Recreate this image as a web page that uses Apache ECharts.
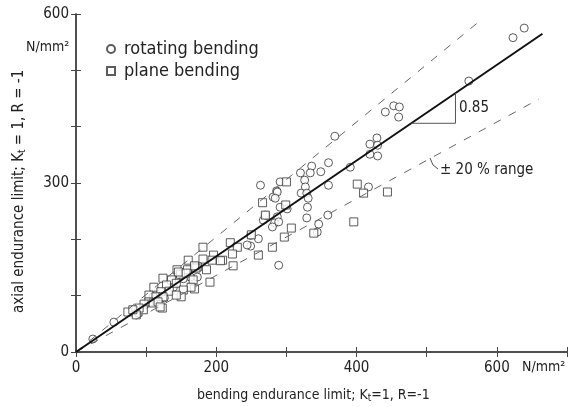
<!DOCTYPE html>
<html>
<head>
<meta charset="utf-8">
<script src="https://cdn.jsdelivr.net/npm/echarts@6/dist/echarts.min.js"></script>
<style>html,body{margin:0;padding:0;background:#fff}#c{width:574px;height:407px}</style>
</head>
<body>
<div id="c"></div>
<script>
var FONT = "'DejaVu Sans Condensed','Liberation Sans Narrow',sans-serif";
var xTickLabels = [0, 200, 400, 600];
var yTickLabels = [0, 300, 600];

var rotatingBending = [
  [639,575],[623,558],[560,481],[441,426],[453,437],[461,435],[460,417],
  [369,383],[419,369],[429,380],[430,367],[419,351],[430,348],[360,336],
  [391,328],[336,330],[320,318],[334,318],[349,320],[326,305],[291,302],
  [327,293],[360,296],[286,286],[321,282],[329,282],[281,275],[331,273],
  [291,257],[330,257],[301,254],[287,240],[329,238],[359,243],[283,229],
  [280,222],[346,227],[417,293],[263,296],[287,284],[284,273],[267,234],
  [289,231],[260,201],[249,188],[289,154],[244,190],[173,133],[163,133],
  [153,130],[139,115],[126,96],[110,98],[89,69],[54,53],[24,23],[344,213],
  [270,243],[249,207]
];
var planeBending = [
  [401,298],[410,282],[444,284],[396,231],[307,220],[297,204],[339,211],
  [300,302],[266,265],[299,261],[270,243],[250,208],[280,186],[260,172],
  [220,194],[230,186],[181,186],[223,174],[209,163],[196,172],[194,163],
  [181,165],[224,153],[160,163],[159,146],[173,151],[186,146],[144,146],
  [149,138],[206,162],[171,149],[191,124],[169,112],[169,153],[146,142],
  [157,140],[136,128],[143,122],[124,131],[167,128],[129,119],[164,115],
  [111,115],[121,107],[133,108],[153,110],[150,98],[143,101],[104,101],
  [114,98],[104,89],[97,85],[110,87],[124,98],[117,89],[123,78],[96,75],
  [90,78],[86,66],[74,71],[81,75],[120,80]
];
var meanLine = [[0,0],[665,565]];
var upperLine = [[0,0],[580,592]];
var lowerLine = [[0,0],[660,449]];
var slopeTriangle = [[478,406],[541,406],[541,460]];

var chart = echarts.init(document.getElementById('c'), null, {renderer:'canvas'});
var axisCommon = {
  type:'value', min:0, interval:100,
  axisLine:{show:true, lineStyle:{color:'#444', width:1.5}},
  axisTick:{show:true, inside:true, length:5, lineStyle:{color:'#444', width:1}},
  splitLine:{show:false}
};
var option = {
  backgroundColor:'#fff',
  animation:false,
  grid:{left:76, top:14, right:7, bottom:55, containLabel:false},
  xAxis:[
    Object.assign({}, axisCommon, {max:700, position:'bottom',
      axisLabel:{show:true, margin:9, fontSize:15, color:'#222', fontFamily:FONT,
        formatter:function(v){return xTickLabels.indexOf(v)>=0 ? String(v) : '';}}}),
    Object.assign({}, axisCommon, {max:700, position:'top', axisLabel:{show:false}})
  ],
  yAxis:[
    Object.assign({}, axisCommon, {max:600, position:'left',
      axisLabel:{show:true, margin:7, fontSize:15, color:'#222', fontFamily:FONT,
        formatter:function(v){return yTickLabels.indexOf(v)>=0 ? String(v) : '';}}}),
    Object.assign({}, axisCommon, {max:600, position:'right', axisLabel:{show:false}})
  ],
  legend:{
    orient:'vertical', left:101, top:35, itemWidth:8, itemHeight:8, itemGap:4,
    data:['rotating bending','plane bending'],
    textStyle:{fontSize:18, color:'#222', fontFamily:FONT, padding:[0,0,0,4], lineHeight:18}
  },
  series:[
    {type:'line', data:upperLine, symbol:'none', silent:true,
      lineStyle:{color:'#666', width:1, type:[8,9]}},
    {type:'line', data:lowerLine, symbol:'none', silent:true,
      lineStyle:{color:'#666', width:1, type:[8,9]}},
    {type:'line', data:meanLine, symbol:'none', silent:true,
      lineStyle:{color:'#111', width:2}},
    {type:'line', data:slopeTriangle, symbol:'none', silent:true,
      lineStyle:{color:'#555', width:1}},
    {name:'rotating bending', type:'scatter', symbol:'circle', symbolSize:8, data:rotatingBending,
      itemStyle:{color:'#fff', borderColor:'#333', borderWidth:1}},
    {name:'plane bending', type:'scatter', symbol:'rect', symbolSize:8, data:planeBending,
      itemStyle:{color:'#fff', borderColor:'#333', borderWidth:1}}
  ],
  graphic:[
    {type:'text', left:26, top:40, style:{text:'N/mm²', fontSize:14, fill:'#222', fontFamily:FONT}},
    {type:'text', left:522, top:360, style:{text:'N/mm²', fontSize:14, fill:'#222', fontFamily:FONT}},
    {type:'text', x:459, y:101, style:{text:'0.85', fontSize:15, fill:'#222', fontFamily:FONT}},
    {type:'polyline', shape:{points:[[430,158],[433,165],[438,169]]}, style:{stroke:'#555', lineWidth:1, fill:null}},
    {type:'text', x:440, y:163, style:{text:'± 20 % range', fontSize:15, fill:'#222', fontFamily:FONT}},
    {type:'text', x:197, y:387, style:{
      rich:{n:{fontSize:14, fill:'#222', fontFamily:FONT}, s:{fontSize:10, fill:'#222', fontFamily:FONT, padding:[6,0,0,0]}},
      text:'{n|bending endurance limit; K}{s|t}{n|=1, R=-1}'}},
    {type:'text', x:11, y:313, rotation:Math.PI/2, style:{
      rich:{n:{fontSize:15, fill:'#222', fontFamily:FONT}, s:{fontSize:10, fill:'#222', fontFamily:FONT, padding:[6,0,0,0]}},
      text:'{n|axial endurance limit; K}{s|t}{n| = 1, R = -1}'}}
  ]
};
chart.setOption(option);
</script>
</body>
</html>
